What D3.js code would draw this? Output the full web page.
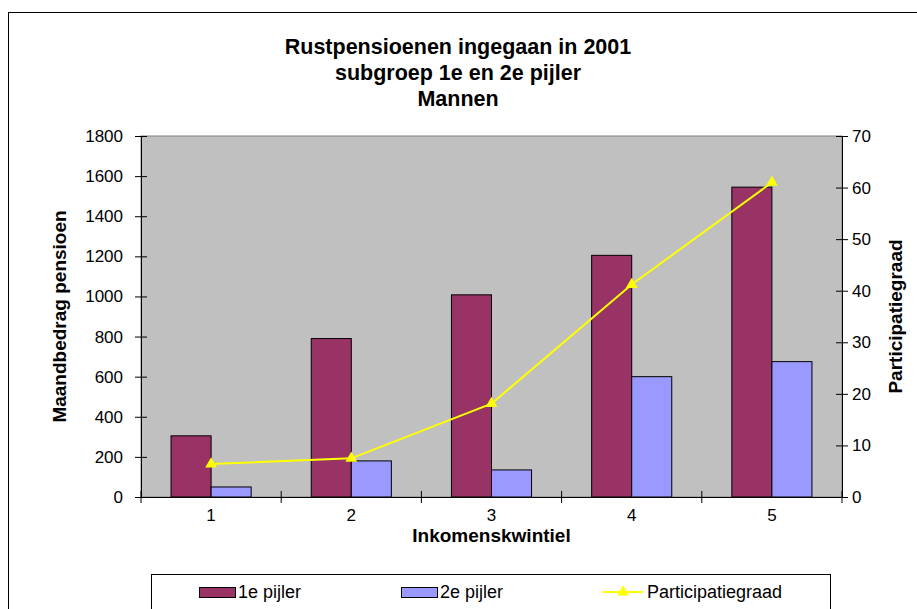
<!DOCTYPE html>
<html>
<head>
<meta charset="utf-8">
<script src="https://cdn.jsdelivr.net/npm/d3@7"></script>
<style>
  body { margin: 0; background: #fff; }
  svg { display: block; font-family: Arial, "Liberation Sans", sans-serif; }
</style>
</head>
<body>
<script>
// data
const categories = ["1", "2", "3", "4", "5"]
const pijler1 = [305, 790, 1008, 1205, 1545]
const pijler2 = [50, 180, 135, 600, 675]
const participatie = [6.4, 7.5, 18.1, 41.2, 61.0]
const leftTicks = [0, 200, 400, 600, 800, 1000, 1200, 1400, 1600, 1800]
const rightTicks = [0, 10, 20, 30, 40, 50, 60, 70]
const titleLines = ["Rustpensioenen ingegaan in 2001", "subgroep 1e en 2e pijler", "Mannen"]
const seriesNames = ["1e pijler", "2e pijler", "Participatiegraad"]

const width = 917
const height = 609
const plot = { left: 141, right: 842, top: 136, bottom: 497 }
const colors = { p1: "#993366", p2: "#9999FF", line: "#FFFF00", bg: "#C0C0C0" }

const svg = d3.select("body")
    .append("svg")
    .attr("width", width)
    .attr("height", height)

// outer chart border (runs off the picture on the right and bottom)
svg.append("rect")
    .attr("x", 8.5).attr("y", 12.5)
    .attr("width", 930).attr("height", 620)
    .attr("fill", "#fff")
    .attr("stroke", "#000")

// title
svg.append("g")
    .selectAll("text")
    .data(titleLines)
    .enter().append("text")
    .attr("x", 458)
    .attr("y", (d, i) => 54 + i * 26)
    .attr("text-anchor", "middle")
    .style("font-size", "21.5px")
    .style("font-weight", "bold")
    .text(d => d)

const x = d3.scaleBand()
    .domain(categories)
    .range([plot.left, plot.right])

const xInner = d3.scaleBand()
    .domain(["p1", "p2"])
    .range([0, x.bandwidth()])
    .paddingInner(0)
    .paddingOuter(0.75)

const y = d3.scaleLinear()
    .domain([0, 1800])
    .range([plot.bottom, plot.top])

const y2 = d3.scaleLinear()
    .domain([0, 70])
    .range([plot.bottom, plot.top])

// plot area
svg.append("rect")
    .attr("x", plot.left).attr("y", plot.top)
    .attr("width", plot.right - plot.left)
    .attr("height", plot.bottom - plot.top)
    .attr("fill", colors.bg)
    .attr("stroke", "#808080")

// bars
const groups = svg.append("g")
    .selectAll("g")
    .data(categories)
    .enter().append("g")
    .attr("transform", d => `translate(${x(d)},0)`)

groups.append("rect")
    .attr("x", d => xInner("p1"))
    .attr("y", (d, i) => y(pijler1[i]))
    .attr("width", xInner.bandwidth())
    .attr("height", (d, i) => y(0) - y(pijler1[i]))
    .attr("fill", colors.p1)
    .attr("stroke", "#000")

groups.append("rect")
    .attr("x", d => xInner("p2"))
    .attr("y", (d, i) => y(pijler2[i]))
    .attr("width", xInner.bandwidth())
    .attr("height", (d, i) => y(0) - y(pijler2[i]))
    .attr("fill", colors.p2)
    .attr("stroke", "#000")

// axes
const leftAxis = svg.append("g")
    .attr("transform", `translate(${plot.left},0)`)
    .call(d3.axisLeft(y).tickValues(leftTicks).tickFormat(d3.format("d"))
        .tickSizeInner(6).tickSizeOuter(0).tickPadding(12))
leftAxis.selectAll(".tick line").attr("x2", -6).attr("x1", 6)

const rightAxis = svg.append("g")
    .attr("transform", `translate(${plot.right},0)`)
    .call(d3.axisRight(y2).tickValues(rightTicks).tickSizeInner(6).tickSizeOuter(0).tickPadding(4))
rightAxis.selectAll(".tick line").attr("x1", -6).attr("x2", 6)

const bottomAxis = svg.append("g")
    .attr("transform", `translate(0,${plot.bottom})`)
    .call(d3.axisBottom(x).tickSize(0).tickPadding(12).tickSizeOuter(0))

svg.selectAll(".domain").attr("stroke", "#000")
svg.selectAll(".tick line").attr("stroke", "#000")
svg.selectAll(".tick text")
    .attr("fill", "#000")
    .style("font-size", "17px")
    .style("font-family", "Arial, 'Liberation Sans', sans-serif")

// category boundary ticks
svg.append("g")
    .selectAll("line")
    .data(categories.concat(["end"]))
    .enter().append("line")
    .attr("x1", d => d == "end" ? plot.right : x(d))
    .attr("x2", d => d == "end" ? plot.right : x(d))
    .attr("y1", plot.bottom - 6)
    .attr("y2", plot.bottom + 6)
    .attr("stroke", "#000")

// participatiegraad line
const line = d3.line()
    .x((d, i) => x(categories[i]) + x.bandwidth() / 2)
    .y(d => y2(d))

svg.append("path")
    .datum(participatie)
    .attr("d", line)
    .attr("fill", "none")
    .attr("stroke", colors.line)
    .attr("stroke-width", 2)

const tri = d3.symbol().type(d3.symbolTriangle).size(60)

svg.append("g")
    .selectAll("path")
    .data(participatie)
    .enter().append("path")
    .attr("d", tri)
    .attr("transform", (d, i) => `translate(${x(categories[i]) + x.bandwidth() / 2},${y2(d)})`)
    .attr("fill", colors.line)

// axis titles
svg.append("text")
    .attr("transform", `translate(66,${(plot.top + plot.bottom) / 2}) rotate(-90)`)
    .attr("text-anchor", "middle")
    .style("font-size", "19px")
    .style("font-weight", "bold")
    .text("Maandbedrag pensioen")

svg.append("text")
    .attr("transform", `translate(902,${(plot.top + plot.bottom) / 2}) rotate(-90)`)
    .attr("text-anchor", "middle")
    .style("font-size", "19px")
    .style("font-weight", "bold")
    .text("Participatiegraad")

svg.append("text")
    .attr("x", (plot.left + plot.right) / 2)
    .attr("y", 542)
    .attr("text-anchor", "middle")
    .style("font-size", "19px")
    .style("font-weight", "bold")
    .text("Inkomenskwintiel")

// legend
const legend = svg.append("g")

legend.append("rect")
    .attr("x", 151.5).attr("y", 574.5)
    .attr("width", 679).attr("height", 60)
    .attr("fill", "#fff")
    .attr("stroke", "#000")

const legendX = [199, 401, 603]

legend.selectAll(".sw")
    .data([colors.p1, colors.p2])
    .enter().append("rect")
    .attr("x", (d, i) => legendX[i] + 0.5)
    .attr("y", 587.5)
    .attr("width", 36)
    .attr("height", 10)
    .attr("fill", d => d)
    .attr("stroke", "#000")

legend.append("line")
    .attr("x1", legendX[2]).attr("x2", legendX[2] + 40)
    .attr("y1", 592).attr("y2", 592)
    .attr("stroke", colors.line)
    .attr("stroke-width", 2)

legend.append("path")
    .attr("d", tri)
    .attr("transform", `translate(${legendX[2] + 20},592)`)
    .attr("fill", colors.line)

legend.selectAll(".lt")
    .data(seriesNames)
    .enter().append("text")
    .attr("x", (d, i) => legendX[i] + (i == 2 ? 44 : 39))
    .attr("y", 598)
    .style("font-size", "18px")
    .text(d => d)
</script>
</body>
</html>
